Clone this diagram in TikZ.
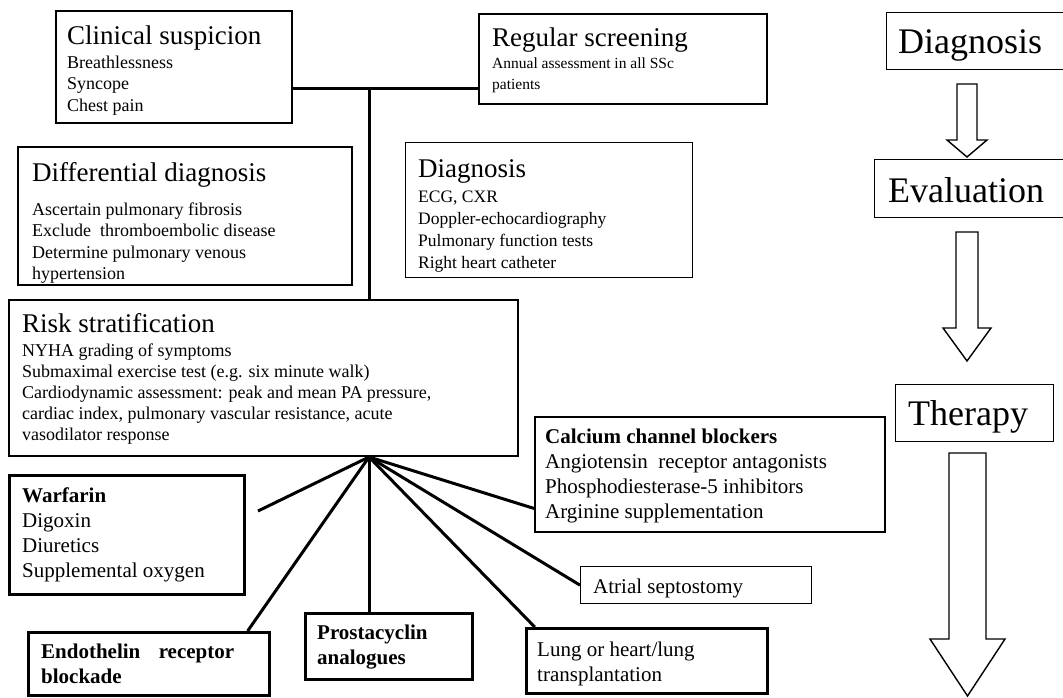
\documentclass[tikz,border=0pt]{standalone}
\usepackage{fontspec}
\setmainfont{Liberation Serif}
\usetikzlibrary{calc}
\tikzset{
  box/.style={draw, line width=2pt, inner sep=0pt, anchor=north west},
  thinbox/.style={box, line width=1.3pt},
  heavybox/.style={box, line width=2.8pt},
  link/.style={line width=3pt},
  blockarrow/.style={draw, line width=1.4pt, line join=miter},
  txt/.style={inner sep=0pt, anchor=base west, align=left},
  ttl/.style={txt, font=\fontsize{27}{30}\selectfont},
  bodyA/.style={txt, font=\fontsize{18}{21.5}\selectfont},
  bodyD/.style={txt, font=\fontsize{17.5}{21.7}\selectfont},
  bodyR/.style={txt, font=\fontsize{18}{20.8}\selectfont},
  bodyS/.style={txt, font=\fontsize{15.5}{21}\selectfont},
  bodyB/.style={txt, font=\fontsize{21}{25}\selectfont},
  big/.style={txt, font=\fontsize{36}{40}\selectfont},
}
\newcommand\blockarr[6]{% x, top, shaft end, tip, half shaft, half head
  \draw[blockarrow] ({#1-#5},#2) -- ({#1+#5},#2) -- ({#1+#5},#3) -- ({#1+#6},#3)
    -- (#1,#4) -- ({#1-#6},#3) -- ({#1-#5},#3) -- cycle;}
\begin{document}
\begin{tikzpicture}[x=1pt,y=-1pt]
\useasboundingbox (0,0) rectangle (1063,697);
% boxes
\node[box, minimum width=236pt, minimum height=112pt] (clin) at (55,10) {};
\node[box, minimum width=288pt, minimum height=90pt] (reg) at (478,13) {};
\node[box, minimum width=334pt, minimum height=138pt] (diff) at (17,146) {};
\node[thinbox, minimum width=287pt, minimum height=135pt] (diag) at (405,142) {};
\node[box, minimum width=509pt, minimum height=156pt] (risk) at (8,299) {};
\node[heavybox, minimum width=235pt, minimum height=119pt] (warf) at (8,474) {};
\node[heavybox, minimum width=241pt, minimum height=63pt] (endo) at (27,631) {};
\node[heavybox, minimum width=167pt, minimum height=66pt] (prost) at (304,612) {};
\node[heavybox, minimum width=241pt, minimum height=65pt] (lung) at (525,627) {};
\node[thinbox, minimum width=231pt, minimum height=37pt] (atr) at (580,566) {};
\node[box, minimum width=350pt, minimum height=115pt] (calc) at (534,416) {};
\node[thinbox, minimum width=180pt, minimum height=57pt] (rdiag) at (886,12) {};
\node[thinbox, minimum width=192pt, minimum height=58pt] (reval) at (874,159) {};
\node[thinbox, minimum width=158pt, minimum height=57pt] (rther) at (895,384) {};
% texts (multi-line nodes are anchored at the baseline of their last line)
\node[ttl] (clin-t) at (67,44) {Clinical suspicion};
\node[bodyA] (clin-b) at (67,111) {Breathlessness\\Syncope\\Chest pain};
\node[ttl] (reg-t) at (492,46) {Regular screening};
\node[bodyS] (reg-b) at (492,89) {Annual assessment in all SSc\\patients};
\node[ttl] (diff-t) at (32,181) {Differential diagnosis};
\node[bodyA] (diff-b) at (32,279.5) {Ascertain pulmonary fibrosis\\Exclude\ \ thromboembolic disease\\Determine pulmonary venous\\hypertension};
\node[ttl] (diag-t) at (418,177) {Diagnosis};
\node[bodyD] (diag-b) at (418,268) {ECG, CXR\\Doppler-echocardiography\\Pulmonary function tests\\Right heart catheter};
\node[ttl] (risk-t) at (22,332) {Risk stratification};
\node[bodyR] (risk-b) at (22,440) {NYHA grading of symptoms\\Submaximal exercise test (e.g. six minute walk)\\Cardiodynamic assessment: peak and mean PA pressure,\\cardiac index, pulmonary vascular resistance, acute\\vasodilator response};
\node[bodyB] (warf-b) at (22,577) {\textbf{Warfarin}\\Digoxin\\Diuretics\\Supplemental oxygen};
\node[bodyB] (endo-b) at (41,683) {\makebox[193pt][s]{\textbf{Endothelin receptor}}\\\textbf{blockade}};
\node[bodyB] (prost-b) at (317,664) {\textbf{Prostacyclin}\\\textbf{analogues}};
\node[bodyB] (lung-b) at (537,681) {Lung or heart/lung\\transplantation};
\node[bodyB] (atr-b) at (593,593) {Atrial septostomy};
\node[bodyB] (calc-b) at (545,518) {\textbf{Calcium channel blockers}\\Angiotensin\ \ receptor antagonists\\Phosphodiesterase-5 inhibitors\\Arginine supplementation};
\node[big] (rdiag-t) at (898,53) {Diagnosis};
\node[big] (reval-t) at (888,202) {Evaluation};
\node[big] (rther-t) at (908,425) {Therapy};
% connectors
\coordinate (j) at (369,88);
\coordinate (f) at (risk.south -| j);
\coordinate (wend) at (258,511);
\draw[link] (clin.east |- j) -- (reg.west |- j);
\draw[link] (j) -- (risk.north -| j);
\draw[link] (f) -- (wend);
\draw[link] (f) -- ($(endo.north west)!0.905!(endo.north east)$);
\draw[link] (f) -- (prost.north -| f);
\draw[link] (f) -- ($(lung.north west)!0.04!(lung.north east)$);
\draw[link] (f) -- (atr.west);
\draw[link] (f) -- ($(calc.north west)!0.79!(calc.south west)$);
% block arrows
\blockarr{967}{84}{140}{157}{10}{20}
\blockarr{967}{232}{328}{361}{11}{24}
\blockarr{967.5}{453}{639}{696}{18.5}{37.5}
\end{tikzpicture}
\end{document}
